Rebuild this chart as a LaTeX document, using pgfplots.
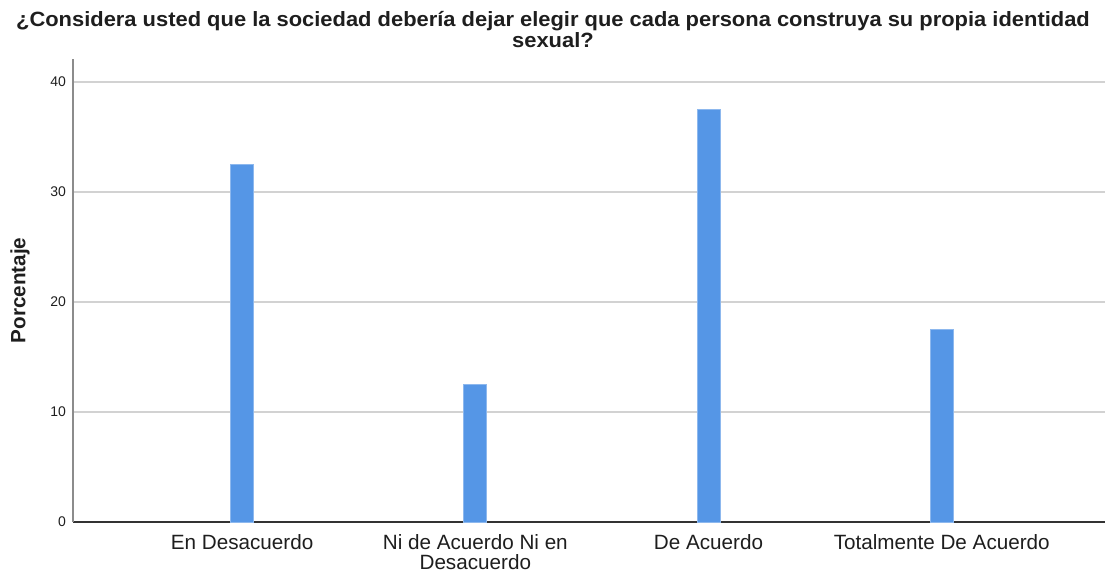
\documentclass[border=0pt]{standalone}
\usepackage{fontspec}
\setmainfont{Liberation Sans}
\newfontfamily\titlefont[FakeStretch=1.06]{Liberation Sans}
\usepackage{pgfplots}
\pgfplotsset{compat=1.18}
\definecolor{barBlue}{HTML}{5596E6}
\definecolor{barEdge}{HTML}{8DB8EE}
\definecolor{gridGray}{HTML}{D2D2D2}
\definecolor{txt}{HTML}{1E1E1E}

\begin{document}
\begin{tikzpicture}
\path[use as bounding box] (0,0) rectangle (830.25pt,432pt);
\node[anchor=north, align=center, inner sep=0pt, text=txt,
      font=\titlefont\fontsize{15.5pt}{12.5pt}\selectfont\bfseries]
  at (414.75pt,423.5pt) {¿Considera usted que la sociedad debería dejar elegir que cada persona construya su propia identidad\\sexual?};
\begin{axis}[
  at={(54.75pt,40.5pt)}, anchor=south west,
  scale only axis, width=774pt, height=347.25pt,
  xmin=-0.725, xmax=3.7, ymin=0, ymax=42.1,
  axis x line*=bottom, axis y line*=left,
  x axis line style={draw=black!80, line width=0.8pt},
  y axis line style={draw=black!45, line width=0.8pt},
  ytick={0,10,20,30,40},
  xtick={0,1,2,3},
  xticklabels={En Desacuerdo,{Ni de Acuerdo Ni en\\Desacuerdo},De Acuerdo,Totalmente De Acuerdo},
  ymajorgrids, grid style={gridGray, line width=0.9pt},
  major tick length=0pt,
  /pgf/number format/assume math mode=true,
  tick label style={text=txt},
  yticklabel style={font=\fontsize{10.5pt}{12pt}\selectfont, xshift=-1.75pt},
  xticklabel style={font=\fontsize{15.5pt}{14.5pt}\selectfont, align=center, yshift=-6pt},
  ylabel={Porcentaje},
  every axis y label/.style={at={(axis description cs:-0.0514,0.5)}, rotate=90, anchor=center,
    font=\fontsize{15.5pt}{16pt}\selectfont\bfseries, text=txt},
  ybar, bar width=17.25pt,
]
\addplot[fill=barBlue, draw=barEdge, line width=0.5pt]
  coordinates {(0,32.5)(1,12.5)(2,37.5)(3,17.5)};
\end{axis}
\end{tikzpicture}
\end{document}
